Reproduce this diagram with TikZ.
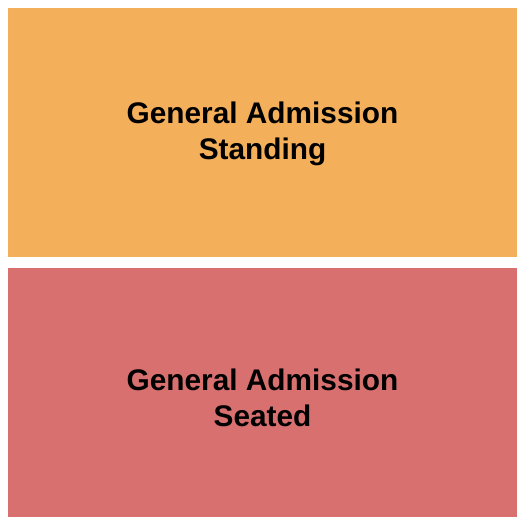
\documentclass[tikz,border=0pt]{standalone}
\usepackage{fontspec}
\setmainfont{Liberation Sans}
\definecolor{standcol}{RGB}{244,175,91}
\definecolor{seatcol}{RGB}{216,112,112}

\begin{document}
\begin{tikzpicture}
        [x=1pt,y=-1pt,every node/.style={align=center,inner sep=0pt,
        font=\fontsize{29.8}{36}\selectfont\bfseries}]
        \useasboundingbox (0,0) rectangle (525,525);
        %%
        \fill[standcol] (8,8) rectangle (517,257);
        \node (standing) at (262.5,134.2) {General Admission\\Standing};
        %%
        \fill[seatcol] (8,268) rectangle (517,517);
        \node (seated) at (262.5,397.7) {General Admission\\Seated};
        \end{tikzpicture}
\end{document}
